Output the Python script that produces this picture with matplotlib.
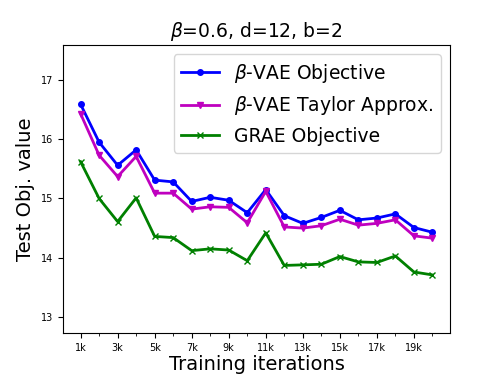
import matplotlib
matplotlib.use("Agg")
import matplotlib.pyplot as plt
from matplotlib.ticker import FixedLocator

iters = list(range(1, 21))
tick_pos = [1, 3, 5, 7, 9, 11, 13, 15, 17, 19]
tick_labels = ["1k", "3k", "5k", "7k", "9k", "11k", "13k", "15k", "17k", "19k"]
minor_pos = [2, 4, 6, 8, 10, 12, 14, 16, 18, 20]

beta_vae = [16.59, 15.95, 15.56, 15.82, 15.31, 15.28, 14.95, 15.02, 14.97, 14.76,
            15.15, 14.71, 14.58, 14.68, 14.80, 14.64, 14.67, 14.74, 14.51, 14.43]
taylor = [16.43, 15.73, 15.37, 15.71, 15.09, 15.09, 14.82, 14.86, 14.85, 14.59,
          15.12, 14.52, 14.50, 14.54, 14.65, 14.55, 14.58, 14.64, 14.37, 14.33]
grae = [15.62, 15.00, 14.61, 15.01, 14.36, 14.34, 14.12, 14.15, 14.13, 13.95,
        14.42, 13.87, 13.88, 13.89, 14.02, 13.93, 13.92, 14.03, 13.76, 13.71]

fig = plt.figure(figsize=(5, 3.75), dpi=100)
ax = fig.add_axes([0.126, 0.112, 0.774, 0.768])
ax.plot(iters, beta_vae, color="blue", marker="o", markersize=4, lw=2, label=r"$\beta$-VAE Objective")
ax.plot(iters, taylor, color="m", marker="v", markersize=4, lw=2, label=r"$\beta$-VAE Taylor Approx.")
ax.plot(iters, grae, color="green", marker="x", markersize=4, lw=2, label="GRAE Objective")

ax.set_ylim(12.73, 17.59)
ax.set_yticks([13, 14, 15, 16, 17])
ax.set_xticks(tick_pos)
ax.set_xticklabels(tick_labels)
ax.xaxis.set_minor_locator(FixedLocator(minor_pos))
ax.tick_params(labelsize=7)
ax.set_xlabel("Training iterations", fontsize=14, labelpad=2)
ax.set_ylabel("Test Obj. value", fontsize=14)
ax.set_title(r"$\beta$=0.6, d=12, b=2", fontsize=13.5)
ax.legend(loc="upper right", fontsize=13.5)
fig.savefig("out.png", dpi=100)
